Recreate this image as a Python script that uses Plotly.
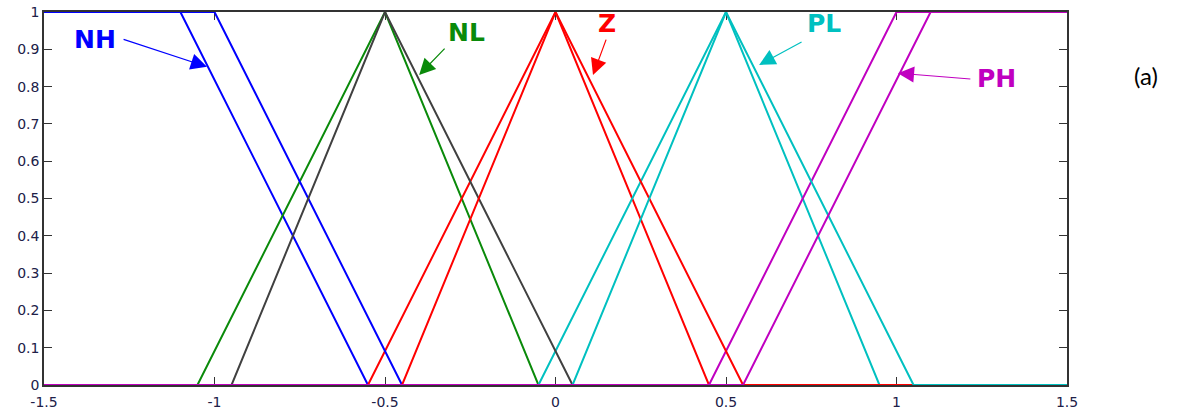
import plotly.graph_objects as go

# Universe of discourse and tick labels
x_ticks = [-1.5, -1, -0.5, 0, 0.5, 1, 1.5]
x_tick_text = ["-1.5", "-1", "-0.5", "0", "0.5", "1", "1.5"]
y_ticks = [0, 0.1, 0.2, 0.3, 0.4, 0.5, 0.6, 0.7, 0.8, 0.9, 1]
y_tick_text = ["0", "0.1", "0.2", "0.3", "0.4", "0.5", "0.6", "0.7", "0.8", "0.9", "1"]

# Membership function breakpoints (x, mu) for the two sets of fuzzy partitions
# Set A
nh_a_x = [-1.5, -1.1, -0.55, 1.5]
nh_a_y = [1, 1, 0, 0]
nl_a_x = [-1.5, -1.05, -0.5, -0.05, 1.5]
nl_a_y = [0, 0, 1, 0, 0]
z_a_x = [-1.5, -0.55, 0.0, 0.45, 1.5]
z_a_y = [0, 0, 1, 0, 0]
pl_a_x = [-1.5, -0.05, 0.5, 0.95, 1.5]
pl_a_y = [0, 0, 1, 0, 0]
ph_a_x = [-1.5, 0.45, 1.0, 1.5]
ph_a_y = [0, 0, 1, 1]

# Set B
nh_b_x = [-1.5, -1.0, -0.45, 1.5]
nh_b_y = [1, 1, 0, 0]
nl_b_x = [-1.5, -0.95, -0.5, 0.05, 1.5]
nl_b_y = [0, 0, 1, 0, 0]
z_b_x = [-1.5, -0.45, 0.0, 0.55, 1.5]
z_b_y = [0, 0, 1, 0, 0]
pl_b_x = [-1.5, 0.05, 0.5, 1.05, 1.5]
pl_b_y = [0, 0, 1, 0, 0]
ph_b_x = [-1.5, 0.55, 1.1, 1.5]
ph_b_y = [0, 0, 1, 1]

BLUE = "#0000ff"
GREEN = "#0a8a0a"
GRAY = "#404040"
RED = "#ff0000"
CYAN = "#00c0c0"
MAGENTA = "#c000c0"

curves = [
    (nh_a_x, nh_a_y, BLUE),
    (nl_a_x, nl_a_y, GREEN),
    (z_a_x, z_a_y, RED),
    (pl_a_x, pl_a_y, CYAN),
    (ph_a_x, ph_a_y, MAGENTA),
    (nh_b_x, nh_b_y, BLUE),
    (nl_b_x, nl_b_y, GRAY),
    (z_b_x, z_b_y, RED),
    (pl_b_x, pl_b_y, CYAN),
    (ph_b_x, ph_b_y, MAGENTA),
]

fig = go.Figure()
for xs, ys, col in curves:
    fig.add_trace(go.Scatter(x=xs, y=ys, mode="lines",
                             line=dict(color=col, width=2),
                             cliponaxis=False, showlegend=False,
                             hoverinfo="skip"))

label_font = "DejaVu Sans"
# (text, colour, text x, text y, arrow tail x, tail y, arrow head x, head y)
labels = [
    ("NH", BLUE, -1.350, 0.925, -1.271, 0.928, -1.022, 0.853),
    ("NL", GREEN, -0.260, 0.944, -0.321, 0.906, -0.400, 0.831),
    ("Z", RED, 0.152, 0.968, 0.150, 0.930, 0.110, 0.831),
    ("PL", CYAN, 0.786, 0.968, 0.726, 0.922, 0.597, 0.858),
    ("PH", MAGENTA, 1.292, 0.823, 1.221, 0.820, 1.004, 0.836),
]

for text, col, tx, ty, ax_, ay_, hx, hy in labels:
    fig.add_annotation(x=tx, y=ty, xref="x", yref="y", text="<b>%s</b>" % text,
                       showarrow=False,
                       font=dict(family=label_font, size=25, color=col))
    fig.add_annotation(x=hx, y=hy, xref="x", yref="y",
                       ax=ax_, ay=ay_, axref="x", ayref="y", text="",
                       showarrow=True, arrowhead=2, arrowsize=2.7,
                       arrowwidth=1.2, arrowcolor=col, standoff=0)

fig.add_annotation(x=(1160 - 44) / 1023, y=(385 - 59) / 373,
                   xref="paper", yref="paper", text="(a)", showarrow=False,
                   font=dict(family="Lato", size=24, color="#000000"))

tick_font = dict(family="DejaVu Sans", size=14, color="#202048")
axis_common = dict(showgrid=False, zeroline=False, ticks="inside", ticklen=8,
                   tickwidth=1, tickcolor="#333333", showline=True,
                   linecolor="#333333", linewidth=1.5, mirror="ticks",
                   tickfont=tick_font, layer="below traces",
                   automargin=False)

fig.update_xaxes(range=[-1.5, 1.5], tickvals=x_ticks, ticktext=x_tick_text,
                 ticklabelstandoff=3, **axis_common)
fig.update_yaxes(range=[0, 1], tickvals=y_ticks, ticktext=y_tick_text,
                 **axis_common)

fig.update_layout(width=1200, height=414, autosize=False,
                  margin=dict(l=44, r=133, t=12, b=29, pad=0),
                  plot_bgcolor="white", paper_bgcolor="white")

fig.write_html("out.html")
